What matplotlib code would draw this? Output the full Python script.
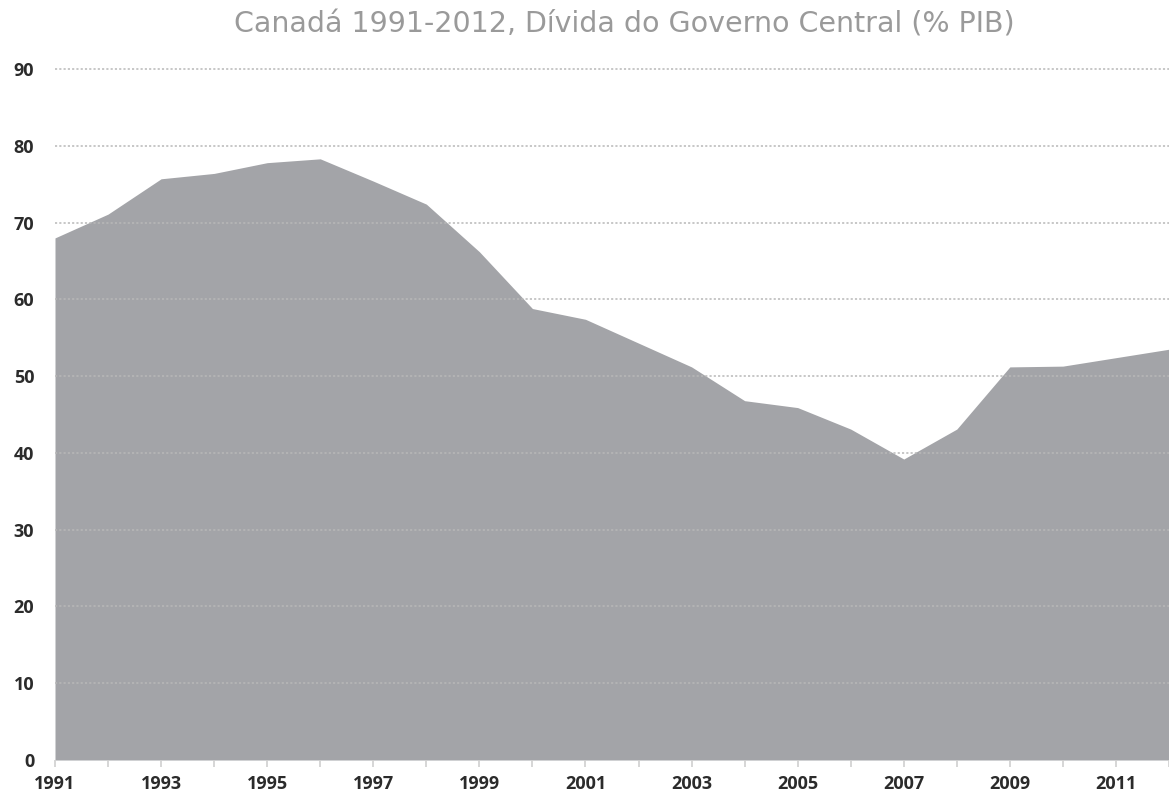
import matplotlib
matplotlib.use("Agg")
import matplotlib.pyplot as plt

# Central government debt, Canada (% of GDP)
years = [1991, 1992, 1993, 1994, 1995, 1996, 1997, 1998, 1999, 2000, 2001,
         2002, 2003, 2004, 2005, 2006, 2007, 2008, 2009, 2010, 2011, 2012]
debt = [68.0, 71.1, 75.7, 76.4, 77.8, 78.3, 75.4, 72.4, 66.2, 58.8, 57.4,
        54.3, 51.2, 46.8, 45.9, 43.1, 39.2, 43.1, 51.2, 51.3, 52.4, 53.5]
year_labels = [1991, 1993, 1995, 1997, 1999, 2001, 2003, 2005, 2007, 2009, 2011]
y_ticks = [0, 10, 20, 30, 40, 50, 60, 70, 80, 90]

title = "Canadá 1991-2012, Dívida do Governo Central (% PIB)"

W, H = 1169, 798
fig = plt.figure(figsize=(W / 100, H / 100), dpi=100)
left_px, right_px = 55, 1169
top_px, bottom_px = 69, 760
ax = fig.add_axes([left_px / W, 1 - bottom_px / H,
                   (right_px - left_px) / W, (bottom_px - top_px) / H])

ax.fill_between(years, debt, 0, color="#a3a4a8", linewidth=0, zorder=1)

ax.set_xlim(1991, 1991 + (right_px - left_px) / 53.6)
ax.set_ylim(0, 90)

for v in y_ticks[1:]:
    ax.axhline(v, color="#b8b8b8", linestyle=(0, (1.4, 1.4)), linewidth=1.1,
               zorder=2, clip_on=False)

for s in ax.spines.values():
    s.set_visible(False)

tick_font = dict(family="Open Sans", weight="bold", size=13)

ax.set_yticks(y_ticks)
ax.set_yticklabels([str(v) for v in y_ticks], **tick_font)
ax.tick_params(axis="y", length=0, pad=15, labelcolor="#2b2b2b")

ax.set_xticks(years, minor=True)
ax.set_xticks(year_labels)
ax.set_xticklabels([str(y) for y in year_labels], **tick_font)
ax.tick_params(axis="x", which="both", length=5, width=1.2, color="#cfcfcf",
               direction="out")
ax.tick_params(axis="x", which="major", pad=6, labelcolor="#2b2b2b")

fig.text(624 / W, 1 - 33 / H, title, ha="center", va="baseline",
         fontsize=20.5, color="#9a9a9a", family="DejaVu Sans")

fig.savefig("out.png", dpi=100, facecolor="white")
